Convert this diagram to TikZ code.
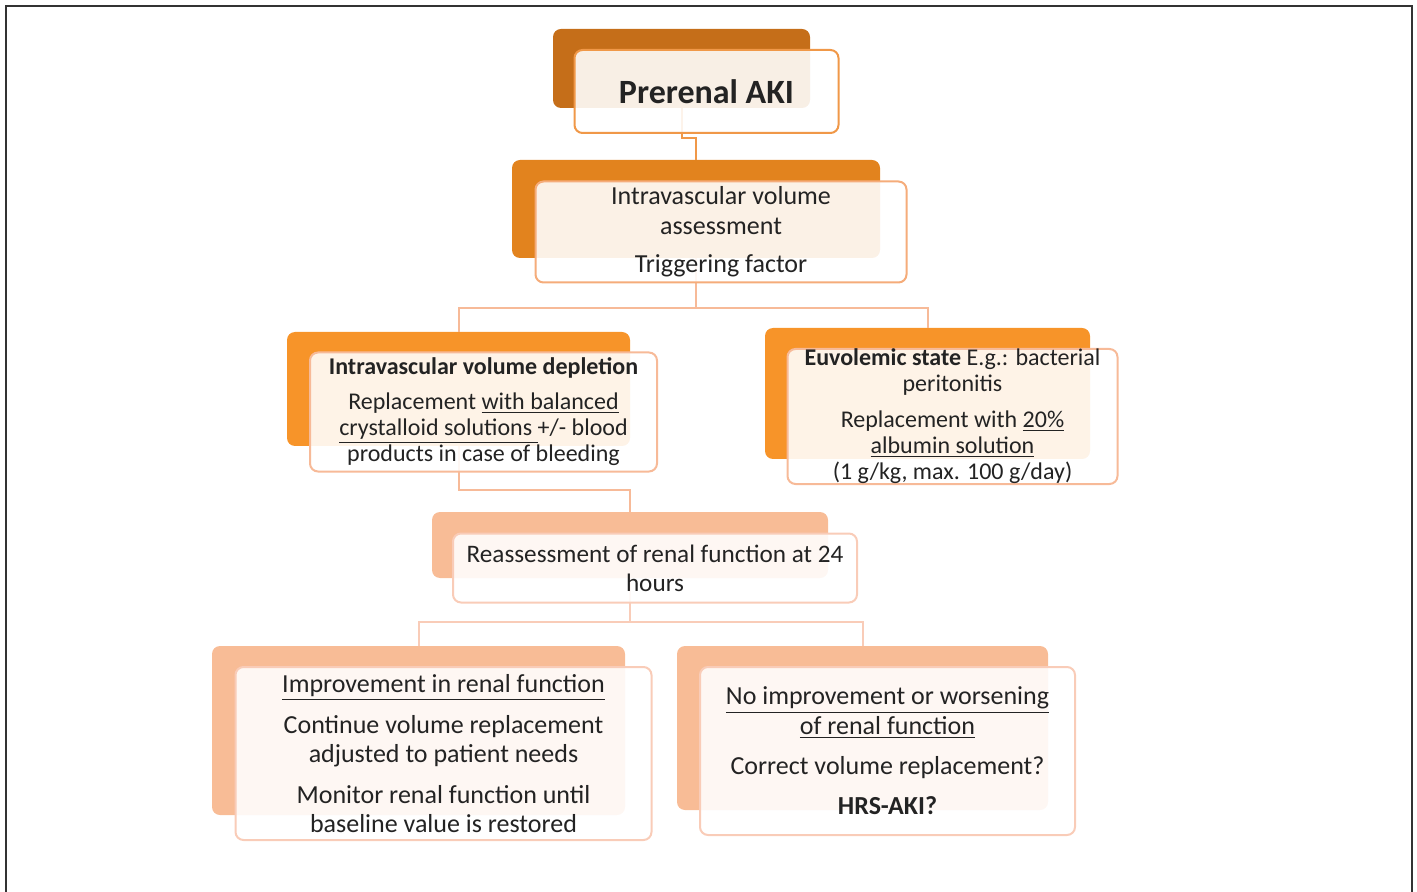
\documentclass[tikz,border=0pt]{standalone}
\usepackage{fontspec}
\setmainfont{Carlito}
\usetikzlibrary{calc,positioning}
\definecolor{tierA}{RGB}{197,110,25}
\definecolor{tierB}{RGB}{226,131,30}
\definecolor{tierC}{RGB}{247,148,41}
\definecolor{tierD}{RGB}{248,188,150}
\definecolor{edgeA}{RGB}{240,152,72}
\definecolor{edgeB}{RGB}{245,172,122}
\definecolor{edgeC}{RGB}{247,186,152}
\definecolor{edgeD}{RGB}{249,204,184}
\definecolor{ink}{RGB}{35,35,35}
\begin{document}
\begin{tikzpicture}[x=0.5pt, y=-0.5pt,
  back/.style={draw=none, fill=#1, rounded corners=4pt, inner sep=0pt},
  front/.style={draw=#1, line width=1pt, fill=white, fill opacity=0.89, text opacity=1,
    rounded corners=4pt, inner sep=0pt, align=center, text=ink,
    font=\fontsize{13}{15}\selectfont, shift={(25,23)}},
  link/.style={draw=#1, line width=1pt}]
  \useasboundingbox (0,0) rectangle (1417,892);
  \draw[line width=1pt, black!80] (6,892) -- (6,6) -- (1412,6) -- (1412,892);
  % ================================================================== back cards
  \node[back=tierA, minimum width=128.5pt, minimum height=39.5pt] (preB) at (681.5,68.5) {};
  \node[back=tierB, minimum width=184pt, minimum height=49pt] (assessB) at (696,209) {};
  \node[back=tierC, minimum width=171.5pt, minimum height=57pt] (deplB) at (458.5,389) {};
  \node[back=tierC, minimum width=162.5pt, minimum height=65.5pt] (euvolB) at (927.5,393.5) {};
  \node[back=tierD, minimum width=198pt, minimum height=33pt] (reassB) at (630,545) {};
  \node[back=tierD, minimum width=206.5pt, minimum height=84.5pt] (impB) at (418.5,730.5) {};
  \node[back=tierD, minimum width=185.5pt, minimum height=82pt] (noimpB) at (862.5,728) {};
  % ================================================================== links
  \draw[link=edgeA] (preB.south) -- ++(0,30) -| (assessB.north);
  \draw[link=edgeC] (assessB.south) -- ++(0,50) -| (deplB.north);
  \draw[link=edgeC] (assessB.south) -- ++(0,50) -| (euvolB.north);
  \draw[link=edgeC] (deplB.south) -- ++(0,44) -| (reassB.north);
  \draw[link=edgeD] (reassB.south) -- ++(0,44) -| (impB.north);
  \draw[link=edgeD] (reassB.south) -- ++(0,44) -| (noimpB.north);
  % ================================================================== front cards
  \node[front=edgeA, minimum width=132pt, minimum height=41.5pt,
        font=\fontsize{17}{20}\selectfont\bfseries] (pre) at (preB) {Prerenal AKI};
  \node[front=edgeB, minimum width=185.5pt, minimum height=50.5pt] (assess) at (assessB)
       {Intravascular volume\\ assessment\\[4pt] Triggering factor};
  \node[front=edgeC, minimum width=173.5pt, minimum height=59.5pt,
        font=\fontsize{12}{13}\selectfont] (depl) at (deplB)
       {\textbf{Intravascular volume depletion}\\[4.5pt]
        Replacement \underline{with balanced}\\
        \underline{crystalloid solutions }+/- blood\\
        products in case of bleeding};
  \node[front=edgeC, minimum width=165pt, minimum height=67.5pt,
        font=\fontsize{12}{13}\selectfont] (euvol) at (euvolB)
       {\textbf{Euvolemic state} E.g.: bacterial\\ peritonitis\\[5pt]
        Replacement with \underline{20\%}\\ \underline{albumin solution}\\
        (1 g/kg, max. 100 g/day)};
  \node[front=edgeD, minimum width=202pt, minimum height=34.5pt,
        font=\fontsize{12.6}{14.5}\selectfont] (reass) at (reassB)
       {Reassessment of renal function at 24\\ hours};
  \node[front=edgeD, minimum width=208pt, minimum height=86.5pt,
        font=\fontsize{13}{14.5}\selectfont] (imp) at (impB)
       {\underline{Improvement in renal function}\\[6pt]
        Continue volume replacement\\ adjusted to patient needs\\[6pt]
        Monitor renal function until\\ baseline value is restored};
  \node[front=edgeD, minimum width=187.5pt, minimum height=84pt] (noimp) at (noimpB)
       {\underline{No improvement or worsening}\\ \underline{of renal function}\\[5pt]
        Correct volume replacement?\\[5pt] \textbf{HRS-AKI?}};
\end{tikzpicture}
\end{document}
